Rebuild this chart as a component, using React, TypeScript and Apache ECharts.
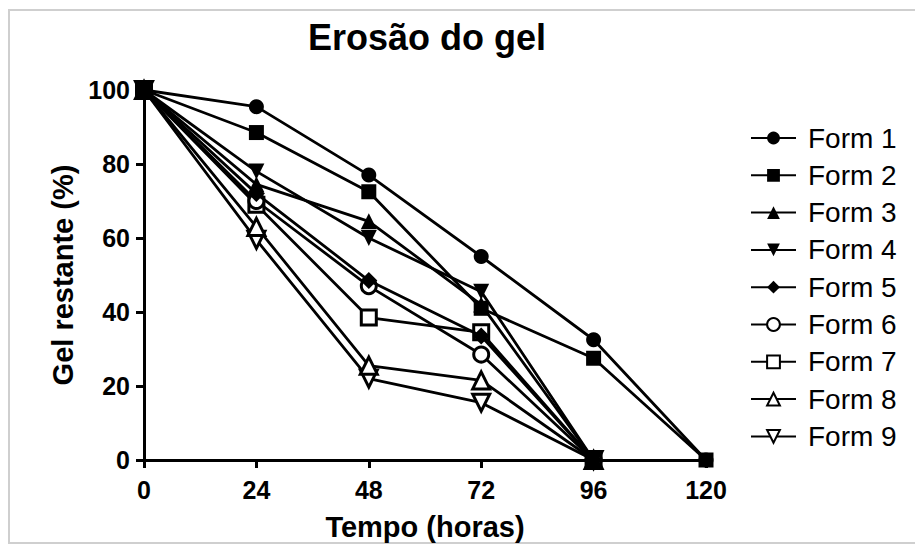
import React, { useEffect, useRef } from "react";
import * as echarts from "echarts";

const times = [0, 24, 48, 72, 96, 120];
const xTicks = [0, 24, 48, 72, 96, 120];
const yTicks = [0, 20, 40, 60, 80, 100];

const form1 = [100, 95.5, 77, 55, 32.5, 0];
const form2 = [100, 88.5, 72.5, 41, 27.5, 0];
const form3 = [100, 74.5, 64.5, 42, 0, null];
const form4 = [100, 78, 60, 45.5, 0, null];
const form5 = [100, 72, 48.5, 33.5, 0, null];
const form6 = [100, 70, 47, 28.5, 0, null];
const form7 = [100, 69, 38.5, 34.5, 0, null];
const form8 = [100, 63, 25.5, 21.5, 0, null];
const form9 = [100, 59.5, 22, 15.5, 0, null];

const seriesNames = ["Form 1", "Form 2", "Form 3", "Form 4", "Form 5", "Form 6", "Form 7", "Form 8", "Form 9"];
const seriesValues = [form1, form2, form3, form4, form5, form6, form7, form8, form9];
const symbols = ["circle", "rect", "triangle", "triangle", "diamond", "circle", "rect", "triangle", "triangle"];
const rotations = [0, 0, 0, 180, 0, 0, 0, 0, 180];
const filled = [true, true, true, true, true, false, false, false, false];
const sizes = [15, 15, 16, 16, 17, 15, 15, 17, 17];

export default function App() {
  const ref = useRef<HTMLDivElement>(null);
  useEffect(() => {
    if (!ref.current) return;
    const chart = echarts.init(ref.current, null, { renderer: "svg" });
    const font = "Liberation Sans, Arial, sans-serif";
    const series = seriesNames.map((name, i) => ({
      name,
      type: "line",
      data: times.map((t, j) => [t, seriesValues[i][j]]),
      symbol: symbols[i],
      symbolSize: sizes[i],
      symbolRotate: rotations[i],
      showAllSymbol: true,
      connectNulls: false,
      z: 20 - i,
      lineStyle: { color: "#000", width: 2.8 },
      itemStyle: {
        color: filled[i] ? "#000" : "#fff",
        borderColor: "#000",
        borderWidth: filled[i] ? 0 : 3,
        opacity: 1,
      },
      emphasis: { disabled: true },
    }));
    chart.setOption({
      animation: false,
      backgroundColor: "#fff",
      title: {
        text: "Erosão do gel",
        left: 303,
        top: 14,
        textStyle: { fontFamily: font, fontWeight: "bold", fontSize: 36, color: "#000" },
      },
      grid: { left: 144, right: 209, top: 90, bottom: 85, containLabel: false },
      xAxis: {
        type: "value",
        min: 0,
        max: 120,
        interval: 24,
        name: "Tempo (horas)",
        nameLocation: "middle",
        nameGap: 52,
        nameTextStyle: { fontFamily: font, fontWeight: "bold", fontSize: 29, color: "#000" },
        axisLine: { show: true, onZero: false, lineStyle: { color: "#000", width: 3 } },
        axisTick: { show: true, length: 8, lineStyle: { color: "#000", width: 3 } },
        axisLabel: {
          margin: 17,
          fontFamily: font,
          fontWeight: "bold",
          fontSize: 25,
          color: "#000",
          formatter: (v: number) => (xTicks.includes(v) ? String(v) : ""),
        },
        splitLine: { show: false },
      },
      yAxis: {
        type: "value",
        min: 0,
        max: 100,
        interval: 20,
        name: "Gel restante (%)",
        nameLocation: "middle",
        nameGap: 52,
        nameTextStyle: { fontFamily: font, fontWeight: "bold", fontSize: 29, color: "#000" },
        axisLine: { show: true, lineStyle: { color: "#000", width: 3 } },
        axisTick: { show: true, length: 8, lineStyle: { color: "#000", width: 3 } },
        axisLabel: {
          margin: 14,
          fontFamily: font,
          fontWeight: "bold",
          fontSize: 25,
          color: "#000",
          formatter: (v: number) => (yTicks.includes(v) ? String(v) : ""),
        },
        splitLine: { show: false },
      },
      legend: {
        orient: "vertical",
        left: 745,
        top: 119,
        itemWidth: 45,
        itemHeight: 16,
        itemGap: 9.3,
        selectedMode: false,
        data: seriesNames,
        textStyle: {
          fontFamily: font,
          fontSize: 28,
          lineHeight: 28,
          color: "#000",
          padding: [0, 0, 0, 7],
        },
      },
      graphic: [
        {
          type: "rect",
          shape: { x: 9, y: 10, width: 915, height: 533 },
          style: { fill: "none", stroke: "#cfcfcf", lineWidth: 2 },
          silent: true,
        },
      ],
      series,
    });
    return () => chart.dispose();
  }, []);
  return <div ref={ref} style={{ position: "fixed", left: 0, top: 0, width: 915, height: 546 }} />;
}
